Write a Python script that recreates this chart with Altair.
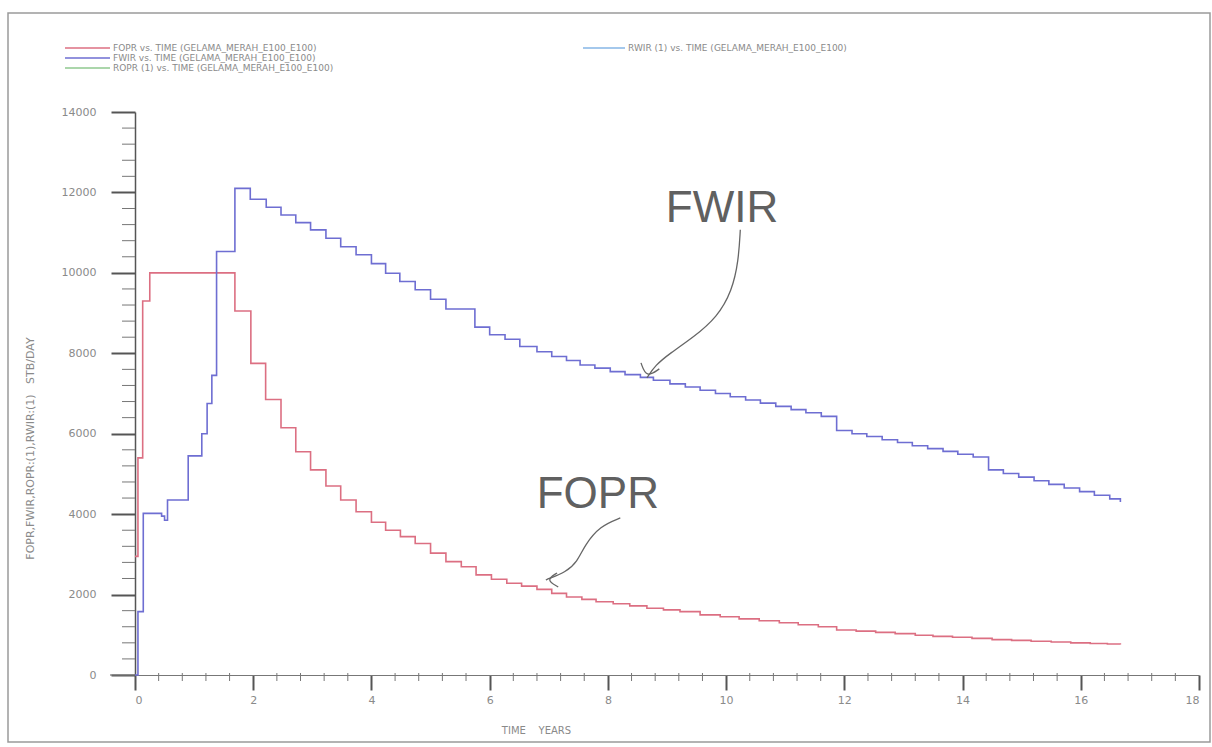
import altair as alt
import pandas as pd

# ---------------- data ----------------
fopr_t = [0.0, 0.05, 0.13, 0.25, 1.69, 1.96, 2.21, 2.47, 2.72, 2.97,
          3.23, 3.48, 3.74, 4.00, 4.24, 4.49, 4.74, 5.00, 5.26, 5.52,
          5.77, 6.03, 6.29, 6.54, 6.80, 7.05, 7.30, 7.56, 7.80, 8.09,
          8.37, 8.66, 8.94, 9.22, 9.56, 9.90, 10.22, 10.56, 10.90, 11.22,
          11.56, 11.87, 12.20, 12.53, 12.86, 13.20, 13.50, 13.83, 14.16, 14.50,
          14.83, 15.16, 15.50, 15.83, 16.16, 16.45, 16.67]
fopr_v = [2950, 5400, 9300, 10000, 9050, 7750, 6850, 6150, 5550, 5100,
          4700, 4350, 4060, 3800, 3600, 3440, 3270, 3030, 2820, 2690,
          2490, 2380, 2280, 2210, 2130, 2030, 1940, 1880, 1820, 1770,
          1720, 1660, 1620, 1575, 1495, 1450, 1395, 1350, 1300, 1250,
          1200, 1120, 1090, 1060, 1030, 990, 960, 940, 910, 880,
          860, 840, 820, 800, 785, 770, 760]

fwir_t = [0.0, 0.05, 0.14, 0.45, 0.50, 0.55, 0.90, 1.13, 1.22, 1.30,
          1.38, 1.69, 1.95, 2.22, 2.47, 2.72, 2.97, 3.23, 3.48, 3.74,
          4.00, 4.24, 4.48, 4.74, 5.00, 5.26, 5.75, 6.00, 6.26, 6.51,
          6.80, 7.05, 7.30, 7.53, 7.78, 8.04, 8.29, 8.55, 8.77, 9.05,
          9.31, 9.56, 9.82, 10.07, 10.33, 10.58, 10.84, 11.10, 11.35, 11.61,
          11.87, 12.13, 12.38, 12.64, 12.90, 13.15, 13.41, 13.67, 13.92, 14.18,
          14.44, 14.69, 14.95, 15.21, 15.46, 15.72, 15.98, 16.23, 16.49, 16.67]
fwir_v = [0, 1575, 4020, 3950, 3850, 4350, 5450, 6000, 6750, 7450,
          10530, 12100, 11830, 11630, 11440, 11250, 11070, 10860, 10650, 10450,
          10230, 9990, 9785, 9580, 9345, 9100, 8650, 8460, 8350, 8170,
          8040, 7920, 7820, 7710, 7630, 7545, 7470, 7400, 7330, 7240,
          7160, 7080, 7000, 6920, 6840, 6760, 6680, 6600, 6520, 6430,
          6080, 6000, 5930, 5850, 5780, 5700, 5630, 5560, 5490, 5420,
          5100, 5010, 4920, 4830, 4740, 4650, 4560, 4470, 4380, 4300]

x_major = [0, 2, 4, 6, 8, 10, 12, 14, 16, 18]
y_major = [0, 2000, 4000, 6000, 8000, 10000, 12000, 14000]
x_minor = [m + k * 0.4 for m in x_major[:-1] for k in range(1, 5)]
y_minor = [m + k * 400 for m in y_major[:-1] for k in range(1, 5)]

NB = "\u00a0"
x_title = "TIME" + NB * 4 + "YEARS"
y_title = "FOPR,FWIR,ROPR:(1),RWIR:(1)" + NB * 3 + "STB/DAY"

legend_labels = ["FOPR vs. TIME (GELAMA_MERAH_E100_E100)",
                 "FWIR vs. TIME (GELAMA_MERAH_E100_E100)",
                 "ROPR (1) vs. TIME (GELAMA_MERAH_E100_E100)",
                 "RWIR (1) vs. TIME (GELAMA_MERAH_E100_E100)"]
legend_colors = ["#dc6f82", "#6e6ed2", "#8fc98f", "#86b6e6"]

# annotation labels and hand-drawn arrows (data units)
ann_text = ["FWIR", "FOPR"]
ann_t = [9.93, 7.83]
ann_v = [11600, 4480]
fwir_arrow_t = [10.24, 10.21, 10.10, 9.85, 9.45, 9.05, 8.80, 8.66]
fwir_arrow_v = [11070, 10300, 9550, 8900, 8400, 8000, 7700, 7388]
fwir_head_t = [8.56, 8.65, 8.87]
fwir_head_v = [7761, 7388, 7612]
fopr_arrow_t = [8.21, 7.87, 7.61, 7.48, 7.29, 6.99, 6.95]
fopr_arrow_v = [3905, 3706, 3234, 2811, 2562, 2388, 2363]
fopr_head_t = [7.14, 6.95, 7.16]
fopr_head_v = [2537, 2363, 2189]

# ---------------- chart ----------------
W, H = 1064, 563
LEFT, TOP = 135, 112
FONT = "DejaVu Sans"
AX = "#8a8a8a"

xs = alt.Scale(domain=[0, 18], nice=False, zero=False)
ys = alt.Scale(domain=[0, 14000], nice=False)

series = pd.concat([
    pd.DataFrame({"t": fopr_t, "v": fopr_v, "s": "FOPR"}),
    pd.DataFrame({"t": fwir_t, "v": fwir_v, "s": "FWIR"}),
])

x_axis = alt.Axis(values=x_major, format="d", title=x_title, grid=False,
                  domainColor="#777", domainWidth=1.2, tickColor="#555",
                  tickWidth=2, tickSize=15, labelPadding=4, labelFont=FONT,
                  labelFontSize=11, labelColor=AX, titleFont=FONT,
                  titleFontSize=10, titleFontWeight="normal", titleColor=AX,
                  titleX=401, titleY=55, titleAlign="center", titleBaseline="middle")
y_axis = alt.Axis(values=y_major, format="d", title=y_title,
                  grid=False, domainColor="#555", domainWidth=1.5,
                  tickColor="#555", tickWidth=2, tickSize=24, labelPadding=15,
                  labelFont=FONT, labelFontSize=11, labelColor=AX,
                  titleFont=FONT, titleFontSize=11, titleFontWeight="normal",
                  titleColor=AX, titleAngle=270, titleX=-105, titleY=336,
                  titleAlign="center", titleBaseline="middle")

lines = alt.Chart(series).mark_line(interpolate="step-after", strokeWidth=1.6).encode(
    x=alt.X("t:Q", scale=xs, axis=x_axis),
    y=alt.Y("v:Q", scale=ys, axis=y_axis),
    color=alt.Color("s:N", scale=alt.Scale(domain=["FOPR", "FWIR"],
                                           range=legend_colors[:2]), legend=None),
    order="t:Q",
)

xminor = alt.Chart(pd.DataFrame({"t": x_minor})).mark_rule(color="#777", strokeWidth=1).encode(
    x=alt.X("t:Q", scale=xs), y=alt.value(H - 2), y2=alt.value(H + 6))
yminor = alt.Chart(pd.DataFrame({"v": y_minor})).mark_rule(color="#777", strokeWidth=1).encode(
    y=alt.Y("v:Q", scale=ys), x=alt.value(-13), x2=alt.value(0))
axis_ext = alt.Chart(pd.DataFrame({"a": [0]})).mark_rule(color="#777", strokeWidth=1.2).encode(
    x=alt.value(-25), x2=alt.value(0), y=alt.value(H))

one = pd.DataFrame({"a": [0]})
frame = alt.Chart(one).mark_rect(fill=None, stroke="#9a9a9a", strokeWidth=1.5).encode(
    x=alt.value(8 - LEFT), x2=alt.value(1210 - LEFT),
    y=alt.value(13 - TOP), y2=alt.value(742 - TOP))

# custom legend (pixel layout)
leg_pos = [(65, 110, 48), (65, 110, 58), (65, 110, 68), (583, 625, 48)]
legend_layers = []
for lab, col, (x0, x1, yy) in zip(legend_labels, legend_colors, leg_pos):
    legend_layers.append(alt.Chart(one).mark_rule(color=col, strokeWidth=1.5).encode(
        x=alt.value(x0 - LEFT), x2=alt.value(x1 - LEFT), y=alt.value(yy - TOP)))
    legend_layers.append(alt.Chart(pd.DataFrame({"l": [lab]})).mark_text(
        align="left", baseline="middle", font=FONT, fontSize=9, color="#8a8a8a").encode(
        x=alt.value(x1 + 3 - LEFT), y=alt.value(yy - TOP), text="l:N"))

ann = alt.Chart(pd.DataFrame({"t": ann_t, "v": ann_v, "l": ann_text})).mark_text(
    font="Liberation Sans", fontSize=44, color="#606060",
    align="center", baseline="middle").encode(
    x=alt.X("t:Q", scale=xs), y=alt.Y("v:Q", scale=ys), text="l:N")

arrows_df = pd.concat([
    pd.DataFrame({"t": fwir_arrow_t, "v": fwir_arrow_v, "g": "a1",
                  "o": range(len(fwir_arrow_t))}),
    pd.DataFrame({"t": fwir_head_t, "v": fwir_head_v, "g": "h1",
                  "o": range(len(fwir_head_t))}),
    pd.DataFrame({"t": fopr_arrow_t, "v": fopr_arrow_v, "g": "a2",
                  "o": range(len(fopr_arrow_t))}),
    pd.DataFrame({"t": fopr_head_t, "v": fopr_head_v, "g": "h2",
                  "o": range(len(fopr_head_t))}),
])
arrows = alt.Chart(arrows_df).mark_line(color="#666", strokeWidth=1.3,
                                        interpolate="basis").encode(
    x=alt.X("t:Q", scale=xs), y=alt.Y("v:Q", scale=ys),
    detail="g:N", order="o:Q")

chart = alt.layer(frame, xminor, yminor, axis_ext, lines, arrows, ann,
                  *legend_layers).properties(
    width=W, height=H,
    autosize=alt.AutoSizeParams(type="none"),
    padding={"left": LEFT, "top": TOP, "right": 1212 - LEFT - W,
             "bottom": 747 - TOP - H},
    background="white",
).configure_view(stroke=None)

chart.save("out.html", embed_options={"renderer": "svg", "actions": False})
